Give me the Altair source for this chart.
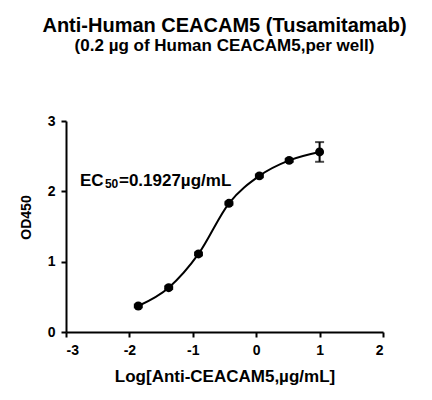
import altair as alt
import pandas as pd

# ---- data ----
log_conc = [-1.86, -1.38, -0.91, -0.43, 0.05, 0.52, 1.0]
od450 = [0.37, 0.63, 1.11, 1.83, 2.22, 2.44, 2.56]
od_sd = [0.02, 0.02, 0.02, 0.02, 0.02, 0.02, 0.14]
x_ticks = [-3, -2, -1, 0, 1, 2]
y_ticks = [0, 1, 2, 3]
title_main = "Anti-Human CEACAM5 (Tusamitamab)"
title_sub = "(0.2 µg of Human CEACAM5,per well)"
x_title = "Log[Anti-CEACAM5,µg/mL]"
y_title = "OD450"
ec50_parts = ["EC", "50", "=0.1927µg/mL"]
ec50_anchor = {"x": -2.78, "y": 2.08}

df = pd.DataFrame({
    "x": log_conc,
    "y": od450,
    "lo": [m - s for m, s in zip(od450, od_sd)],
    "hi": [m + s for m, s in zip(od450, od_sd)],
})
anchor_df = pd.DataFrame({"x": [ec50_anchor["x"]], "y": [ec50_anchor["y"]]})

FONT = "Liberation Sans"
xs = alt.Scale(domain=[-3, 2], nice=False, zero=False)
ys = alt.Scale(domain=[0, 3], nice=False, zero=False)

xax = alt.Axis(values=x_ticks, labelExpr="'' + datum.value", title=x_title,
               titleY=49, titleBaseline="alphabetic", titleFontSize=17,
               labelPadding=6)
yax = alt.Axis(values=y_ticks, labelExpr="'' + datum.value", title=y_title,
               titleX=-40, titleY=96, titleAngle=270, titleAlign="center",
               titleBaseline="middle", titleFontSize=14, labelPadding=6)

base = alt.Chart(df)
curve = base.mark_line(interpolate="monotone", color="black", strokeWidth=2).encode(
    x=alt.X("x:Q", scale=xs, axis=xax),
    y=alt.Y("y:Q", scale=ys, axis=yax),
)
err = base.mark_errorbar(ticks={"size": 9, "thickness": 2, "color": "black"},
                         thickness=2, color="black").encode(
    x=alt.X("x:Q", scale=xs),
    y=alt.Y("lo:Q", scale=ys, title=y_title),
    y2="hi:Q",
)
pts = base.mark_point(filled=True, size=80, color="black", opacity=1).encode(
    x=alt.X("x:Q", scale=xs),
    y=alt.Y("y:Q", scale=ys),
)

ann = alt.Chart(anchor_df)
t1 = ann.mark_text(text=ec50_parts[0], font=FONT, fontWeight="bold", fontSize=17,
                   align="left", baseline="alphabetic", color="black").encode(
    x=alt.X("x:Q", scale=xs), y=alt.Y("y:Q", scale=ys))
t2 = ann.mark_text(text=ec50_parts[1], font=FONT, fontWeight="bold", fontSize=12,
                   align="left", baseline="alphabetic", dx=25, dy=2.5, color="black").encode(
    x=alt.X("x:Q", scale=xs), y=alt.Y("y:Q", scale=ys))
t3 = ann.mark_text(text=ec50_parts[2], font=FONT, fontWeight="bold", fontSize=17,
                   align="left", baseline="alphabetic", dx=39, color="black").encode(
    x=alt.X("x:Q", scale=xs), y=alt.Y("y:Q", scale=ys))

chart = alt.layer(curve, err, pts, t1, t2, t3).properties(
    width=317,
    height=211,
    autosize=alt.AutoSizeParams(type="none"),
    padding={"left": 58, "top": 113, "right": 35, "bottom": 58},
    title=alt.TitleParams(
        text=title_main, subtitle=title_sub, anchor="middle",
        font=FONT, fontSize=20, fontWeight="bold", color="black",
        subtitleFont=FONT, subtitleFontSize=17, subtitleFontWeight="bold",
        subtitleColor="black", subtitlePadding=2, offset=60,
    ),
).configure_view(stroke=None).configure_axis(
    grid=False, domainColor="black", domainWidth=2, tickColor="black",
    tickWidth=2, tickSize=5, labelFont=FONT, labelFontWeight="bold",
    labelFontSize=14, labelColor="black", titleFont=FONT,
    titleFontWeight="bold", titleColor="black",
)

chart.save("out.html", embed_options={"renderer": "svg", "actions": False})
